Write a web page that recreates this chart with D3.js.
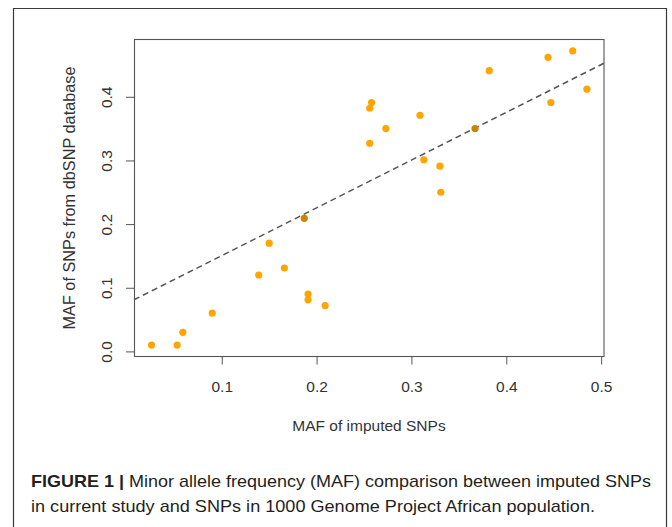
<!DOCTYPE html>
<html>
<head>
<meta charset="utf-8">
<script src="https://cdn.jsdelivr.net/npm/d3@7"></script>
<style>
  html, body { margin: 0; padding: 0; background: #fff; }
  svg { display: block; }
</style>
</head>
<body>
<svg id="chart" width="672" height="527"></svg>
<script>
// ---- data ----
const imputedMAF = [0.026, 0.053, 0.059, 0.090, 0.139, 0.150, 0.166, 0.187, 0.191, 0.191, 0.209,
                    0.258, 0.256, 0.273, 0.256, 0.309, 0.313, 0.330, 0.331, 0.367, 0.382, 0.444, 0.470, 0.447, 0.485];
const dbsnpMAF   = [0.010, 0.010, 0.030, 0.060, 0.120, 0.170, 0.131, 0.209, 0.090, 0.081, 0.072,
                    0.391, 0.382, 0.350, 0.327, 0.371, 0.301, 0.291, 0.250, 0.350, 0.441, 0.462, 0.472, 0.391, 0.412];
const onFitLine  = [0, 0, 0, 0, 0, 0, 0, 1, 0, 0, 0,
                    0, 0, 0, 0, 0, 0, 0, 0, 1, 0, 0, 0, 0, 0];
const fitCoef = [0.0755, 0.75];            // intercept, slope of dashed line
const xTicks = [0.1, 0.2, 0.3, 0.4, 0.5];
const yTicks = [0.0, 0.1, 0.2, 0.3, 0.4];
const xTitle = "MAF of imputed SNPs";
const yTitle = "MAF of SNPs from dbSNP database";
const captionBold = "FIGURE 1 |";
const captionLine1 = " Minor allele frequency (MAF) comparison between imputed SNPs";
const captionLine2 = "in current study and SNPs in 1000 Genome Project African population.";

// ---- layout ----
const svg = d3.select("#chart");
const L = 134, T = 39.5, W = 470, H = 317;
const font = "'Liberation Sans', Arial, Helvetica, sans-serif";

// outer frame (open at the bottom, continues past the crop)
svg.append("path")
  .attr("d", "M13.5,530 V8.5 H666.5 V530")
  .attr("fill", "none").attr("stroke", "#3a3a3a").attr("stroke-width", 1.2);

const x = d3.scaleLinear().domain([0.0075, 0.503]).range([L, L + W]);
const y = d3.scaleLinear().domain([-0.008, 0.490]).range([T + H, T]);

const fmt = d3.format(".1f");

// x axis
const gx = svg.append("g").attr("transform", `translate(0,${T + H})`)
  .call(d3.axisBottom(x).tickValues(xTicks).tickSize(8).tickPadding(0).tickFormat(fmt));
gx.select(".domain").remove();
gx.selectAll("line").attr("stroke", "#555");
gx.selectAll("text").attr("dy", null).attr("y", 35)
  .attr("font-family", font).attr("font-size", 15.5).attr("fill", "#333");

// y axis
const gy = svg.append("g").attr("transform", `translate(${L},0)`)
  .call(d3.axisLeft(y).tickValues(yTicks).tickSize(8).tickFormat(fmt));
gy.select(".domain").remove();
gy.selectAll("line").attr("stroke", "#555");
gy.selectAll("text")
  .attr("x", 0).attr("y", -22.5).attr("dy", null)
  .attr("transform", "rotate(-90)")
  .attr("text-anchor", "middle")
  .attr("font-family", font).attr("font-size", 15.5).attr("fill", "#333");

// plot box
svg.append("rect")
  .attr("x", L + 0.5).attr("y", T).attr("width", W - 0.5).attr("height", H)
  .attr("fill", "none").attr("stroke", "#555").attr("stroke-width", 1.1);

// dashed fit line across the plotting region
const xd = x.domain();
svg.append("line")
  .attr("x1", x(xd[0])).attr("y1", y(fitCoef[0] + fitCoef[1] * xd[0]))
  .attr("x2", x(xd[1])).attr("y2", y(fitCoef[0] + fitCoef[1] * xd[1]))
  .attr("stroke", "#555").attr("stroke-width", 1.5).attr("stroke-dasharray", "6,4");

// points
const pts = imputedMAF.map((v, i) => ({ x: v, y: dbsnpMAF[i], on: onFitLine[i] }));
svg.append("g").selectAll("circle").data(pts).join("circle")
  .attr("cx", d => x(d.x)).attr("cy", d => y(d.y)).attr("r", 3.6)
  .attr("fill", d => d.on ? "#CD8500" : "#FFA500");

// axis titles
svg.append("text").attr("x", L + W / 2).attr("y", 430.5)
  .attr("text-anchor", "middle").attr("font-family", font).attr("font-size", 15.5)
  .attr("fill", "#333").text(xTitle);
svg.append("text").attr("transform", `translate(75,${T + H / 2}) rotate(-90)`)
  .attr("text-anchor", "middle").attr("font-family", font).attr("font-size", 16.3)
  .attr("fill", "#333").text(yTitle);

// caption
const capFont = "'Liberation Sans Narrow', 'Liberation Sans', Arial, sans-serif";
const c1 = svg.append("text").attr("x", 31).attr("y", 487)
  .attr("font-family", capFont).attr("font-size", 17).attr("fill", "#231f20");
c1.append("tspan").attr("font-weight", "bold").text(captionBold);
c1.append("tspan").text(captionLine1);
c1.attr("textLength", 620).attr("lengthAdjust", "spacingAndGlyphs");
svg.append("text").attr("x", 31).attr("y", 512)
  .attr("font-family", capFont).attr("font-size", 17).attr("fill", "#231f20")
  .attr("textLength", 564).attr("lengthAdjust", "spacingAndGlyphs")
  .text(captionLine2);
</script>
</body>
</html>
